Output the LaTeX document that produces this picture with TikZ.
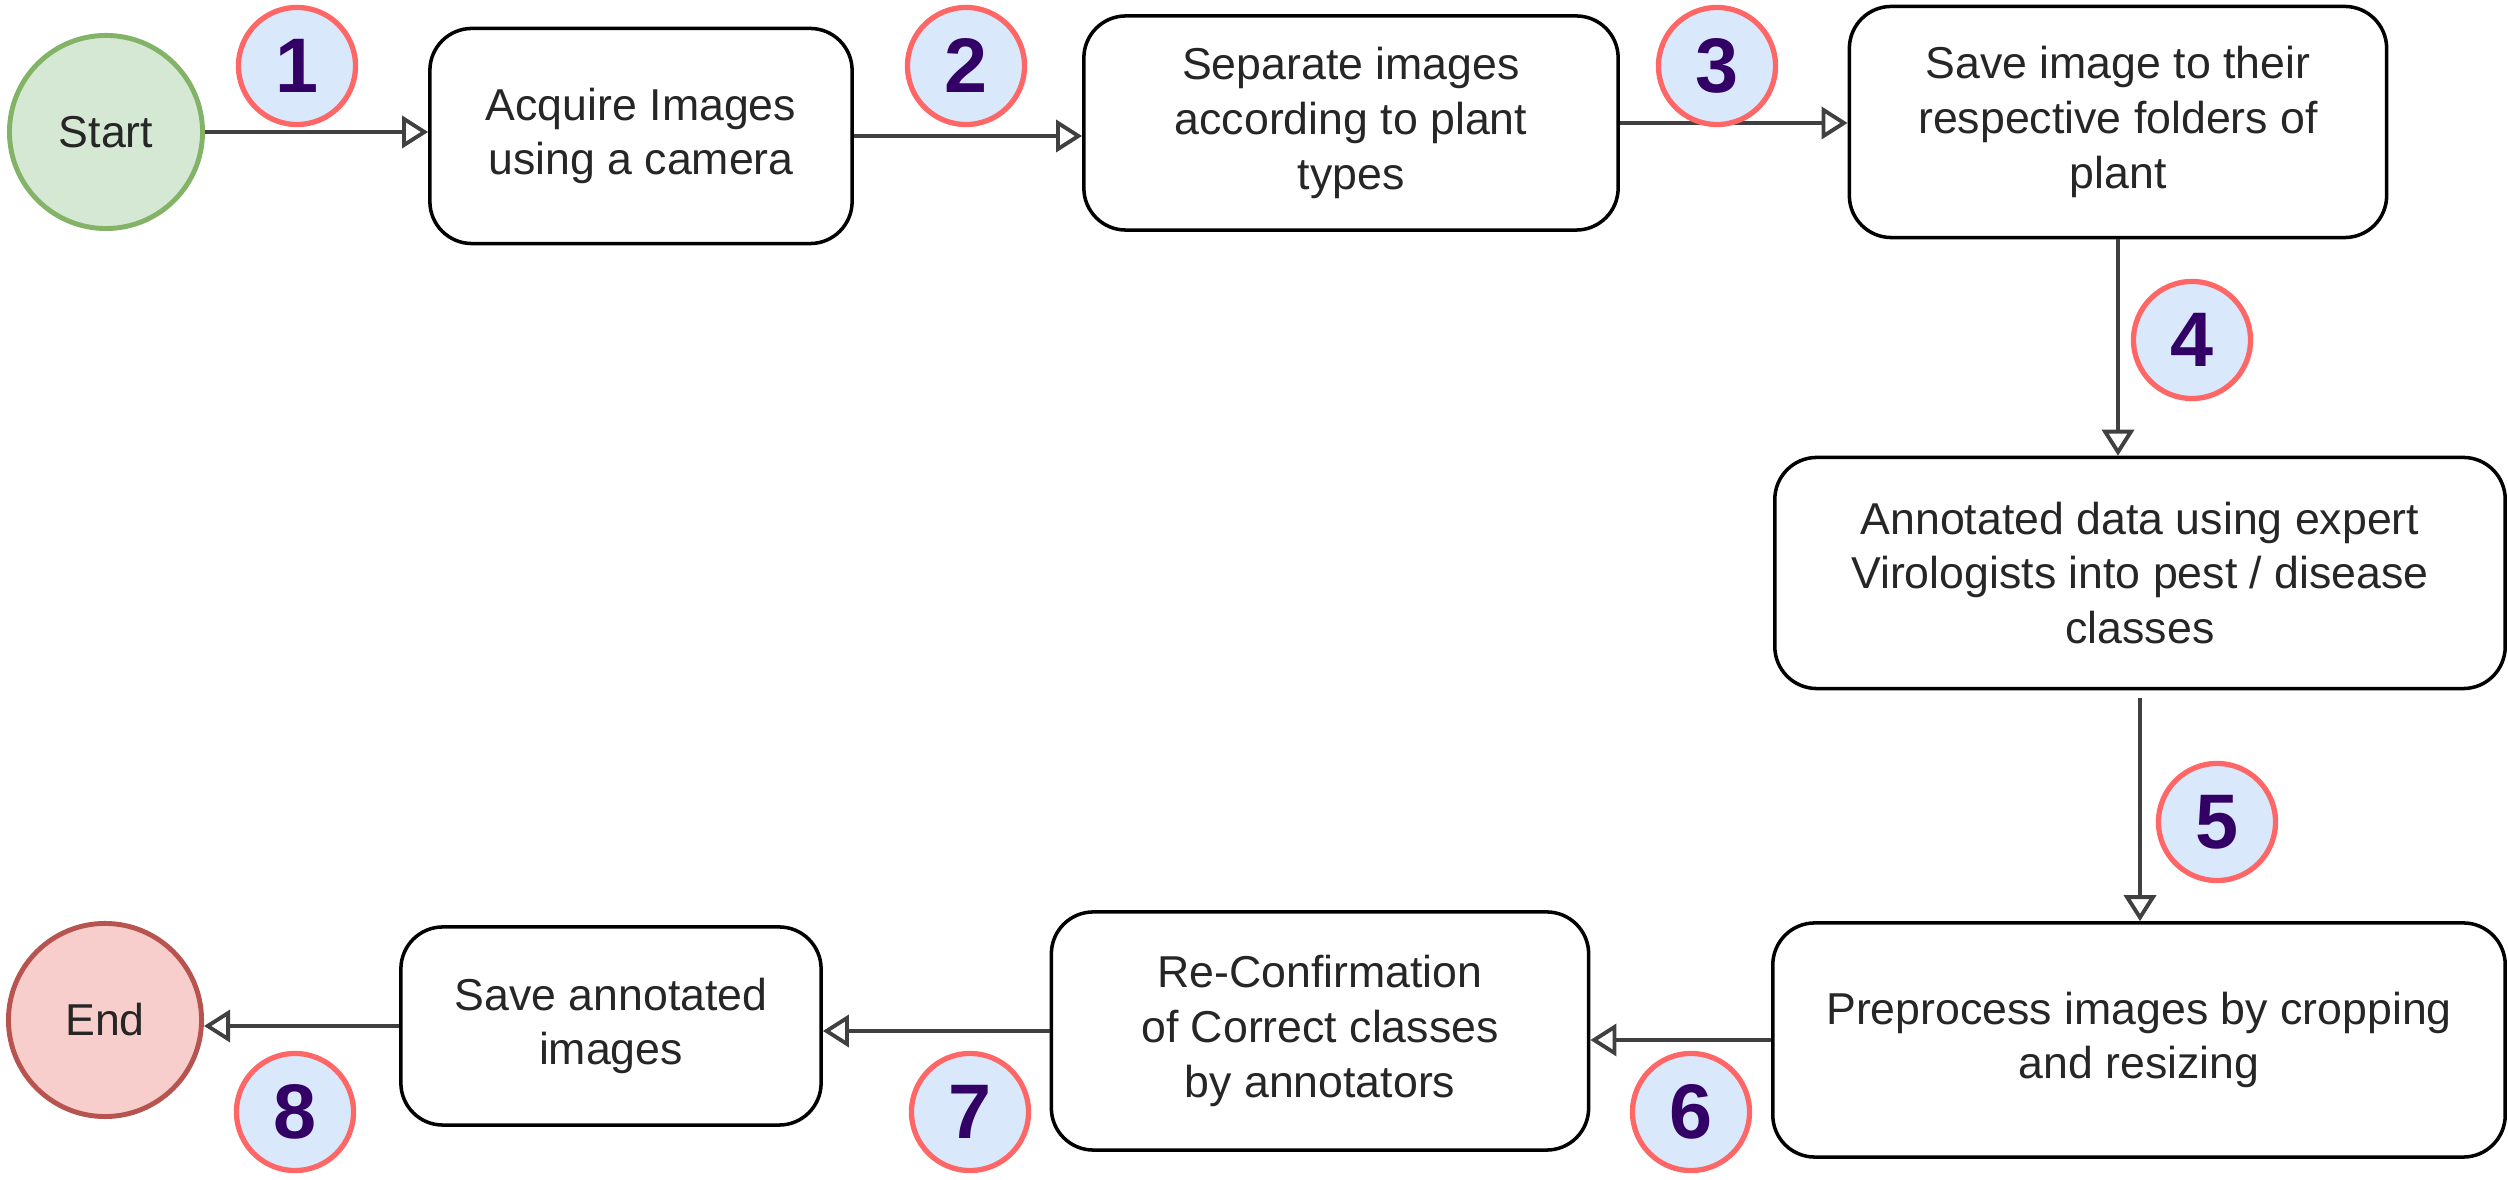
\documentclass[tikz,border=0pt]{standalone}
\usepackage{fontspec}
\setmainfont{Liberation Sans}
\usepackage{tikz}
\usetikzlibrary{arrows.meta}
\definecolor{startfill}{RGB}{213, 232, 212}
\definecolor{startline}{RGB}{130, 179, 102}
\definecolor{endfill}{RGB}{248, 206, 204}
\definecolor{endline}{RGB}{184, 84, 80}
\definecolor{badgefill}{RGB}{218, 232, 252}
\definecolor{badgeline}{RGB}{255, 102, 102}
\definecolor{badgetext}{RGB}{51, 0, 102}

\begin{document}
\begin{tikzpicture}[x=0.01cm, y=-0.01cm, every node/.style={font=\fontsize{12.7}{15.6}\selectfont, text=black!85},
    stepbox/.style={draw, line width=1pt, rounded corners=0.42cm, align=center, fill=white},
    terminal/.style={circle, line width=1.4pt, minimum size=1.93cm, inner sep=0pt},
    badge/.style={circle, draw=badgeline, fill=badgefill, line width=1.5pt, minimum size=1.17cm,
      inner sep=0pt, text=badgetext, font=\fontsize{22}{22}\selectfont\bfseries},
    flow/.style={draw=black!75, line width=1.1pt, -{Triangle[open, length=0.26cm, width=0.32cm, fill=white]}}]
  \useasboundingbox (0,0) rectangle (2508,1180);
  % start and end
  \node[terminal, draw=startline, fill=startfill] (start) at (106,132) {Start};
  \node[terminal, draw=endline, fill=endfill] (finish) at (105,1020) {End};
  % steps
  \node[stepbox, minimum width=4.22cm, minimum height=2.15cm] (acquire) at (641,136) {Acquire Images\\using a camera};
  \node[stepbox, minimum width=5.34cm, minimum height=2.14cm] (separate) at (1351,123) {Separate images\\according to plant\\types};
  \node[stepbox, minimum width=5.37cm, minimum height=2.31cm] (savefolder) at (2118,122) {Save image to their\\respective folders of\\plant};
  \node[stepbox, minimum width=7.30cm, minimum height=2.31cm] (annotate) at (2140,573) {Annotated data using expert\\Virologists into pest / disease\\classes};
  \node[stepbox, minimum width=7.32cm, minimum height=2.34cm] (preprocess) at (2139,1040) {Preprocess images by cropping\\and resizing};
  \node[stepbox, minimum width=5.37cm, minimum height=2.38cm] (confirm) at (1320,1031) {Re-Confirmation\\of Correct classes\\by annotators};
  \node[stepbox, minimum width=4.20cm, minimum height=1.98cm] (saveann) at (611,1026) {Save annotated\\images};
  % connectors
  \draw[flow] (start) -- (start -| acquire.west);
  \draw[flow] (acquire.east) -- (acquire.east -| separate.west);
  \draw[flow] (separate.east) -- (separate.east -| savefolder.west);
  \draw[flow] (savefolder.south) -- (savefolder.south |- annotate.north);
  \draw[flow] ([yshift=-0.08cm]annotate.south) -- (annotate.south |- preprocess.north);
  \draw[flow] (preprocess.west) -- (preprocess.west -| confirm.east);
  \draw[flow] (confirm.west) -- (confirm.west -| saveann.east);
  \draw[flow] (saveann.west) -- (saveann.west -| finish.east);
  % step numbers
  \foreach \n/\x/\y in {1/297/66, 2/966/66, 3/1717/66, 4/2192/340, 5/2217/822, 6/1691/1112, 7/970/1112, 8/295/1112}
    \node[badge] (b\n) at (\x,\y) {\n};
\end{tikzpicture}
\end{document}
